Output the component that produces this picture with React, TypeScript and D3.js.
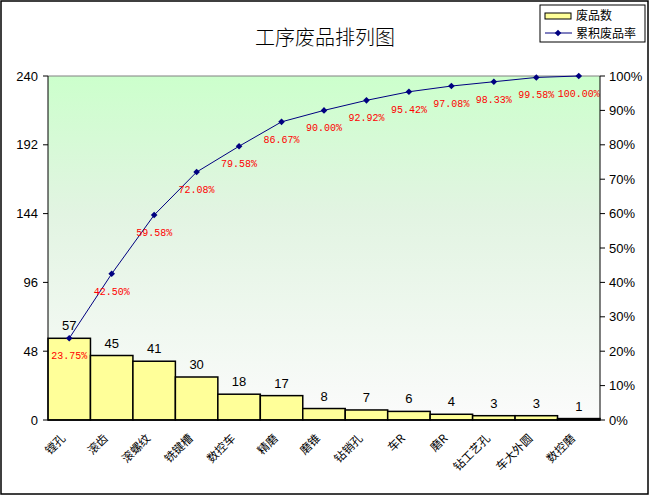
import React from 'react';
import * as d3 from 'd3';

// process steps and reject counts
const categories = ['镗孔', '滚齿', '滚螺纹', '铣键槽', '数控车', '精磨', '磨锥', '钻销孔', '车R', '磨R', '钻工艺孔', '车大外圆', '数控磨'];
const counts = [57, 45, 41, 30, 18, 17, 8, 7, 6, 4, 3, 3, 1];
const cumulativePct = [23.75, 42.5, 59.58, 72.08, 79.58, 86.67, 90.0, 92.92, 95.42, 97.08, 98.33, 99.58, 100.0];
const countTicks = [0, 48, 96, 144, 192, 240];
const pctTicks = [0, 10, 20, 30, 40, 50, 60, 70, 80, 90, 100];

const W = 650;
const H = 496;
const plot = { left: 48, right: 600, top: 76, bottom: 420 };

const cjk = '"Noto Sans CJK SC", sans-serif';
const latin = '"Liberation Sans", Arial, sans-serif';
const mono = '"Liberation Mono", "DejaVu Sans Mono", monospace';

// square turned 45deg, same width and height like the Excel marker
const marker = d3.symbol().type(d3.symbolSquare).size(22);

export default function App() {
  const x = d3.scaleBand<string>().domain(categories).range([plot.left, plot.right]).padding(0);
  const yCount = d3.scaleLinear().domain([0, 240]).range([plot.bottom, plot.top]);
  const yPct = d3.scaleLinear().domain([0, 100]).range([plot.bottom, plot.top]);
  const cx = (c: string) => (x(c) ?? 0) + x.bandwidth() / 2;

  const line = d3.line<number>()
    .x((_, i) => cx(categories[i]))
    .y(d => yPct(d));

  return (
    <svg width={W} height={H} style={{ position: 'absolute', left: 0, top: 0, background: '#fff' }}>
      <defs>
        <linearGradient id="plotBg" x1="0" y1="0" x2="0" y2="1">
          <stop offset="0%" stopColor="#ccffcc" />
          <stop offset="40%" stopColor="#e2f4e2" />
          <stop offset="100%" stopColor="#fbfbfb" />
        </linearGradient>
      </defs>

      <rect x={1} y={1} width={W - 3} height={H - 3} fill="#fff" stroke="#000" strokeWidth={1.5} />

      <text x={325} y={45} textAnchor="middle" fontFamily={cjk} fontSize={20} fontWeight={300}>工序废品排列图</text>

      {/* plot area */}
      <rect x={plot.left} y={plot.top} width={plot.right - plot.left} height={plot.bottom - plot.top} fill="url(#plotBg)" />
      <line x1={plot.left} x2={plot.right} y1={plot.top} y2={plot.top} stroke="#808080" />

      {/* bars */}
      {counts.map((v, i) => (
        <rect key={categories[i]}
          x={x(categories[i])} y={yCount(v)}
          width={x.bandwidth()} height={yCount(0) - yCount(v)}
          fill="#ffff99" stroke="#000" strokeWidth={1.5} />
      ))}
      {counts.map((v, i) => (
        <text key={'c' + i} x={cx(categories[i])} y={yCount(v) - 8} textAnchor="middle"
          fontFamily={latin} fontSize={13}>{v}</text>
      ))}

      {/* cumulative line */}
      <path d={line(cumulativePct) ?? ''} fill="none" stroke="#000080" strokeWidth={1} />
      {cumulativePct.map((p, i) => (
        <path key={'m' + i} d={marker() ?? ''} transform={`translate(${cx(categories[i])},${yPct(p)}) rotate(45)`} fill="#000080" />
      ))}
      {cumulativePct.map((p, i) => (
        <text key={'p' + i} x={cx(categories[i])} y={yPct(p) + 21} textAnchor="middle"
          fontFamily={mono} fontSize={10} fill="#ff0000">{p.toFixed(2)}%</text>
      ))}

      {/* axes */}
      <line x1={plot.left} x2={plot.right} y1={plot.bottom} y2={plot.bottom} stroke="#000" strokeWidth={1.5} />
      <line x1={plot.left} x2={plot.left} y1={plot.top} y2={plot.bottom} stroke="#000" />
      <line x1={plot.right} x2={plot.right} y1={plot.top} y2={plot.bottom} stroke="#000" />
      {countTicks.map(t => (
        <g key={'l' + t}>
          <line x1={plot.left - 5} x2={plot.left} y1={yCount(t)} y2={yCount(t)} stroke="#000" />
          <text x={plot.left - 10} y={yCount(t)} dy="0.35em" textAnchor="end" fontFamily={latin} fontSize={13}>{t}</text>
        </g>
      ))}
      {pctTicks.map(t => (
        <g key={'r' + t}>
          <line x1={plot.right} x2={plot.right + 5} y1={yPct(t)} y2={yPct(t)} stroke="#000" />
          <text x={plot.right + 9} y={yPct(t)} dy="0.35em" fontFamily={latin} fontSize={13}>{t}%</text>
        </g>
      ))}
      {categories.map(c => (
        <text key={'x' + c} transform={`translate(${cx(c) - 3},${plot.bottom + 19}) rotate(-45)`}
          textAnchor="end" fontFamily={cjk} fontSize={11.5}>{c}</text>
      ))}

      {/* legend */}
      <rect x={540} y={5} width={105} height={37} fill="#fff" stroke="#000" />
      <rect x={545} y={13} width={26} height={6} fill="#ffff99" stroke="#000" />
      <text x={576} y={20} fontFamily={cjk} fontSize={12}>废品数</text>
      <line x1={545} x2={572} y1={33} y2={33} stroke="#000080" />
      <path d={marker() ?? ''} transform="translate(558,33) rotate(45)" fill="#000080" />
      <text x={576} y={38} fontFamily={cjk} fontSize={12}>累积废品率</text>
    </svg>
  );
}
